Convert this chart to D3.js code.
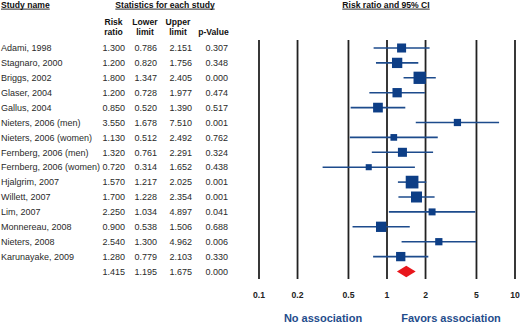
<!DOCTYPE html>
<html>
<head>
<meta charset="utf-8">
<script src="https://cdn.jsdelivr.net/npm/d3@7"></script>
<style>
  body { margin: 0; background: #fff; }
  svg { display: block; font-family: "Liberation Sans", Arial, sans-serif; }
</style>
</head>
<body>
<div id="chart"></div>
<script>
const studies = ["Adami, 1998", "Stagnaro, 2000", "Briggs, 2002", "Glaser, 2004", "Gallus, 2004",
    "Nieters, 2006 (men)", "Nieters, 2006 (women)", "Fernberg, 2006 (men)", "Fernberg, 2006 (women)",
    "Hjalgrim, 2007", "Willett, 2007", "Lim, 2007", "Monnereau, 2008", "Nieters, 2008", "Karunayake, 2009"];
const riskRatio = [1.300, 1.200, 1.800, 1.200, 0.850, 3.550, 1.130, 1.320, 0.720, 1.570, 1.700, 2.250, 0.900, 2.540, 1.280];
const lowerLimit = [0.786, 0.820, 1.347, 0.728, 0.520, 1.678, 0.512, 0.761, 0.314, 1.217, 1.228, 1.034, 0.538, 1.300, 0.779];
const upperLimit = [2.151, 1.756, 2.405, 1.977, 1.390, 7.510, 2.492, 2.291, 1.652, 2.025, 2.354, 4.897, 1.506, 4.962, 2.103];
const pValue = [0.307, 0.348, 0.000, 0.474, 0.517, 0.001, 0.762, 0.324, 0.438, 0.001, 0.001, 0.041, 0.688, 0.006, 0.330];
// relative weights (%)
const weight = [6.2, 8.1, 11.5, 6.6, 7.2, 4.0, 3.4, 6.2, 2.8, 12.3, 9.2, 3.7, 8.1, 4.0, 6.6];
const summary = {rr: 1.415, lower: 1.195, upper: 1.675, p: 0.000};
const ticks = [0.1, 0.2, 0.5, 1, 2, 5, 10];

const width = 520, height = 324;
const svg = d3.select("#chart").append("svg")
    .attr("width", width)
    .attr("height", height);

const x = d3.scaleLog().domain([0.1, 10]).range([259, 515]);
const y = d3.scalePoint().domain(d3.range(studies.length + 1)).range([48, 271.5]);
const size = d3.scaleSqrt().domain([0, 12.3]).range([0, 12.7]);
const fmt = d3.format(".3f");

const textCol = "#2a2a2a";
const blue = "#0d3e86";

// underlined bold header helper
function header(txt, xp, yp, anchor) {
    const t = svg.append("text")
        .attr("x", xp).attr("y", yp)
        .attr("text-anchor", anchor)
        .style("font-size", "8.6px").style("font-weight", "bold")
        .attr("fill", "#111")
        .text(txt);
    const w = t.node().getComputedTextLength();
    const x0 = anchor === "middle" ? xp - w / 2 : xp;
    svg.append("line")
        .attr("x1", x0).attr("x2", x0 + w)
        .attr("y1", yp + 1.6).attr("y2", yp + 1.6)
        .attr("stroke", "#111").attr("stroke-width", 0.9);
}
header("Study name", 1, 7.5, "start");
header("Statistics for each study", 165, 7.5, "middle");
header("Risk ratio and 95% CI", 386, 7.5, "middle");

const cols = [
    {h: ["Risk", "ratio"], hx: 113.5, vx: 125, vals: riskRatio, s: summary.rr},
    {h: ["Lower", "limit"], hx: 145, vx: 157, vals: lowerLimit, s: summary.lower},
    {h: ["Upper", "limit"], hx: 178, vx: 192, vals: upperLimit, s: summary.upper},
    {h: ["", "p-Value"], hx: 213.5, vx: 228, vals: pValue, s: summary.p}
];

cols.forEach(c => {
    c.h.forEach((line, i) => {
        svg.append("text")
            .attr("x", c.hx).attr("y", 25 + i * 10)
            .attr("text-anchor", "middle")
            .style("font-size", "8.6px").style("font-weight", "bold")
            .attr("fill", "#111")
            .text(line);
    });
    svg.append("g").selectAll("text")
        .data(c.vals.concat([c.s]))
        .join("text")
        .attr("x", c.vx)
        .attr("y", (d, i) => y(i) + 3.2)
        .attr("text-anchor", "end")
        .style("font-size", "9px")
        .attr("fill", textCol)
        .text(d => fmt(d));
});

svg.append("g").selectAll("text")
    .data(studies)
    .join("text")
    .attr("x", 1)
    .attr("y", (d, i) => y(i) + 3.2)
    .style("font-size", "9px")
    .attr("fill", textCol)
    .text(d => d);

// vertical reference lines
svg.append("g").selectAll("line")
    .data(ticks)
    .join("line")
    .attr("x1", d => x(d)).attr("x2", d => x(d))
    .attr("y1", 40).attr("y2", 279)
    .attr("stroke", "#222")
    .attr("stroke-width", 1.8);

svg.append("g").selectAll("text")
    .data(ticks)
    .join("text")
    .attr("x", d => x(d))
    .attr("y", 298)
    .attr("text-anchor", "middle")
    .style("font-size", "8.6px").style("font-weight", "bold")
    .attr("fill", "#222")
    .text(d => d);

// confidence intervals
svg.append("g").selectAll("line")
    .data(studies)
    .join("line")
    .attr("x1", (d, i) => x(lowerLimit[i]))
    .attr("x2", (d, i) => x(upperLimit[i]))
    .attr("y1", (d, i) => y(i)).attr("y2", (d, i) => y(i))
    .attr("stroke", "#1d4b8c")
    .attr("stroke-width", 1.6);

// weighted squares
svg.append("g").selectAll("rect")
    .data(studies)
    .join("rect")
    .attr("x", (d, i) => x(riskRatio[i]) - size(weight[i]) / 2)
    .attr("y", (d, i) => y(i) - size(weight[i]) / 2)
    .attr("width", (d, i) => size(weight[i]))
    .attr("height", (d, i) => size(weight[i]))
    .attr("fill", blue);

// summary diamond
const sy = y(studies.length);
svg.append("path")
    .attr("d", `M${x(summary.lower)},${sy} L${x(summary.rr)},${sy - 5.8} L${x(summary.upper)},${sy} L${x(summary.rr)},${sy + 5.8} Z`)
    .attr("fill", "#e8161c");

svg.append("text")
    .attr("x", 323).attr("y", 322)
    .attr("text-anchor", "middle")
    .style("font-size", "11px").style("font-weight", "bold")
    .attr("fill", "#1f4d8c")
    .text("No association");

svg.append("text")
    .attr("x", 451).attr("y", 322)
    .attr("text-anchor", "middle")
    .style("font-size", "11px").style("font-weight", "bold")
    .attr("fill", "#1f4d8c")
    .text("Favors association");
</script>
</body>
</html>
